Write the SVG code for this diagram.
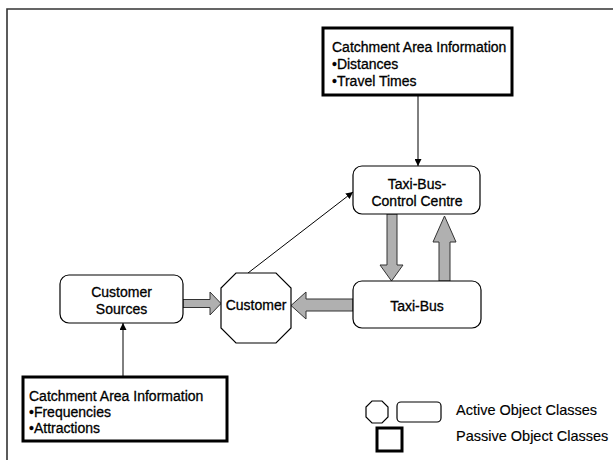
<svg xmlns="http://www.w3.org/2000/svg" width="613" height="460" viewBox="0 0 613 460">
<defs>
<style>
text{font-family:"Liberation Sans",Arial,sans-serif;font-size:14px;fill:#000;stroke:#000;stroke-width:0.3}
.c{text-anchor:middle}
.lg{font-size:14.5px;stroke-width:0.15}
.active{fill:#fff;stroke:#000;stroke-width:1.2}
.passive{fill:#fff;stroke:#000;stroke-width:3}
.thin{stroke:#000;stroke-width:1;fill:none;marker-end:url(#ah)}
.fat{fill:#b0b0b0;stroke:#333;stroke-width:1}
</style>
<marker id="ah" viewBox="0 0 10 10" refX="10" refY="5" markerWidth="7" markerHeight="7" markerUnits="userSpaceOnUse" orient="auto">
<path d="M0,0 L10,5 L0,10 z" fill="#000"/>
</marker>
</defs>
<rect width="613" height="460" fill="#fff"/>
<path d="M7,460 V9 H613" fill="none" stroke="#333" stroke-width="1.6"/>

<g id="connectors">
<line class="thin" x1="418" y1="96" x2="418" y2="166"/>
<line class="thin" x1="248" y1="273" x2="353" y2="192"/>
<line class="thin" x1="123" y1="376" x2="123" y2="323"/>
<path class="fat" d="M183,299.5 H210 V292 L221,303.5 L210,315 V307.5 H183 Z"/>
<path class="fat" d="M353,299 H306 V292 L291,305.5 L306,319 V311 H353 Z"/>
<path class="fat" d="M387,214 V265 H380 L391.5,281 L403,265 H397 V214 Z"/>
<path class="fat" d="M439,281 V242 H433 L444.5,216 L456,242 H450 V281 Z"/>
</g>

<g id="info-top">
<rect class="passive" x="323" y="28" width="189" height="67"/>
<text x="332" y="52">Catchment Area Information</text>
<text x="332" y="69">•Distances</text>
<text x="332" y="86">•Travel Times</text>
</g>

<g id="control-centre">
<rect class="active" x="353" y="166" width="127" height="48" rx="9"/>
<text class="c" x="417" y="189">Taxi-Bus-</text>
<text class="c" x="417" y="206">Control Centre</text>
</g>

<g id="taxi-bus">
<rect class="active" x="353" y="281" width="128" height="47" rx="9"/>
<text class="c" x="417" y="311">Taxi-Bus</text>
</g>

<g id="customer">
<polygon class="active" points="236,273 276,273 291,288 291,328 276,343 236,343 221,328 221,288"/>
<text class="c" x="256" y="310">Customer</text>
</g>

<g id="customer-sources">
<rect class="active" x="60" y="275" width="123" height="48" rx="9"/>
<text class="c" x="121.5" y="297">Customer</text>
<text class="c" x="121.5" y="314">Sources</text>
</g>

<g id="info-bottom">
<rect class="passive" x="23" y="377" width="204" height="64"/>
<text x="29" y="401">Catchment Area Information</text>
<text x="29" y="417">•Frequencies</text>
<text x="29" y="433">•Attractions</text>
</g>

<g id="legend">
<polygon class="active" points="372,401 382,401 388,407 388,417 382,423 372,423 366,417 366,407"/>
<rect class="active" x="397" y="402" width="44" height="20" rx="4"/>
<rect class="passive" x="377" y="428" width="25" height="23"/>
<text class="lg" x="456" y="415">Active Object Classes</text>
<text class="lg" x="456" y="441">Passive Object Classes</text>
</g>
</svg>
